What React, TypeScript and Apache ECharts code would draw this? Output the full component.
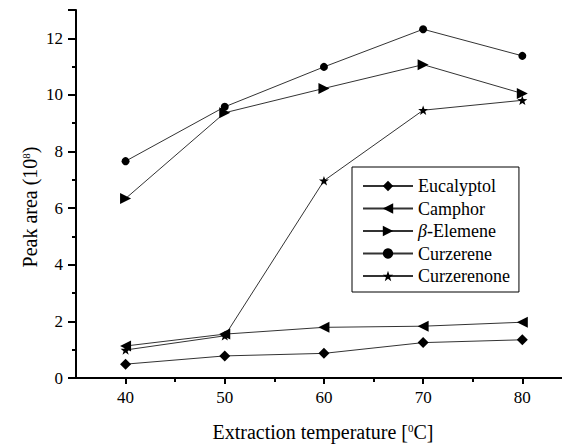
import React, { useEffect, useRef } from "react";
import * as echarts from "echarts";

const temps = [40, 50, 60, 70, 80];
const eucalyptol = [0.49, 0.78, 0.87, 1.25, 1.35];
const camphor = [1.13, 1.55, 1.79, 1.83, 1.97];
const elemene = [6.34, 9.37, 10.23, 11.07, 10.05];
const curzerene = [7.66, 9.58, 10.99, 12.32, 11.38];
const curzerenone = [0.99, 1.49, 6.97, 9.46, 9.81];

const seriesNames = ["Eucalyptol", "Camphor", "β-Elemene", "Curzerene", "Curzerenone"];
const xMajorTicks = [40, 50, 60, 70, 80];
const xMinorTicks = [45, 55, 65, 75];

const STAR =
  "path://M0,-10 L2.35,-3.24 L9.51,-3.09 L3.8,1.24 L5.88,8.09 L0,4 L-5.88,8.09 L-3.8,1.24 L-9.51,-3.09 L-2.35,-3.24 Z";

const FONT = "Liberation Serif";

export default function App() {
  const ref = useRef<HTMLDivElement>(null);
  useEffect(() => {
    if (!ref.current) return;
    const chart = echarts.init(ref.current, null, { renderer: "svg" });
    const pair = (vals: number[]) => temps.map((t, i) => [t, vals[i]]);
    const lineStyle = { color: "#333", width: 1 };
    const itemStyle = { color: "#000" };
    const mk = (name: string, vals: number[], symbol: string, size: number, rotate = 0) => ({
      name,
      type: "line",
      data: pair(vals),
      symbol,
      symbolSize: size,
      symbolRotate: rotate,
      symbolKeepAspect: true,
      showAllSymbol: true,
      lineStyle,
      itemStyle,
      emphasis: { disabled: true },
    });
    chart.setOption({
      animation: false,
      textStyle: { fontFamily: FONT, color: "#000" },
      grid: { left: 76, right: 0, top: 10, bottom: 66 },
      xAxis: [
        {
          type: "value",
          min: 35,
          max: 84,
          axisLine: { lineStyle: { color: "#000", width: 2 } },
          axisTick: { show: true, customValues: xMajorTicks, length: 6, lineStyle: { color: "#000", width: 2 } },
          axisLabel: {
            customValues: xMajorTicks,
            color: "#000",
            fontFamily: FONT,
            fontSize: 17,
            margin: 11,
          },
          splitLine: { show: false },
        },
        {
          type: "value",
          min: 35,
          max: 84,
          position: "bottom",
          axisLine: { show: false },
          axisTick: { show: true, customValues: xMinorTicks, length: 4, lineStyle: { color: "#000", width: 2 } },
          axisLabel: { show: false },
          splitLine: { show: false },
        },
      ],
      yAxis: {
        type: "value",
        min: 0,
        max: 13,
        interval: 2,
        axisLine: { show: true, lineStyle: { color: "#000", width: 2 } },
        axisTick: { show: true, length: 8, lineStyle: { color: "#000", width: 2 } },
        minorTick: { show: true, splitNumber: 2, length: 4, lineStyle: { color: "#000", width: 2 } },
        axisLabel: {
          color: "#000",
          fontFamily: FONT,
          fontSize: 17,
          margin: 13,
          showMaxLabel: false,
        },
        splitLine: { show: false },
      },
      legend: {
        orient: "vertical",
        left: 352,
        top: 167,
        width: 180,
        borderColor: "#000",
        borderWidth: 1,
        borderRadius: 0,
        padding: [10, 9, 7, 10],
        itemWidth: 50,
        itemHeight: 13,
        itemGap: 4.5,
        data: seriesNames,
        textStyle: {
          color: "#000",
          fontFamily: FONT,
          fontSize: 18,
          rich: {
            i: { fontStyle: "italic", fontFamily: FONT, fontSize: 18, color: "#000" },
            n: { fontFamily: FONT, fontSize: 18, color: "#000" },
          },
        },
        formatter: (name: string) => (name.startsWith("β") ? "{i|β}{n|-Elemene}" : name),
      },
      graphic: [
        {
          type: "text",
          x: 323,
          y: 432,
          style: {
            text: "Extraction temperature [{s|0}C]",
            fill: "#000",
            fontFamily: FONT,
            fontSize: 20,
            align: "center",
            verticalAlign: "middle",
            rich: {
              s: { fontSize: 11, fontFamily: FONT, verticalAlign: "top", fill: "#000" },
            },
          },
        },
        {
          type: "text",
          x: 30,
          y: 207,
          rotation: Math.PI / 2,
          style: {
            text: "Peak area (10{s|8})",
            fill: "#000",
            fontFamily: FONT,
            fontSize: 20,
            align: "center",
            verticalAlign: "middle",
            rich: {
              s: { fontSize: 11, fontFamily: FONT, verticalAlign: "top", fill: "#000" },
            },
          },
        },
      ],
      series: [
        mk(seriesNames[0], eucalyptol, "diamond", 11),
        mk(seriesNames[1], camphor, "triangle", 11, 90),
        mk(seriesNames[2], elemene, "triangle", 11, -90),
        mk(seriesNames[3], curzerene, "circle", 8),
        mk(seriesNames[4], curzerenone, STAR, 10),
      ],
    });
    return () => chart.dispose();
  }, []);
  return (
    <div
      ref={ref}
      style={{ position: "fixed", left: 0, top: 0, width: 562, height: 444, background: "#fff" }}
    />
  );
}
